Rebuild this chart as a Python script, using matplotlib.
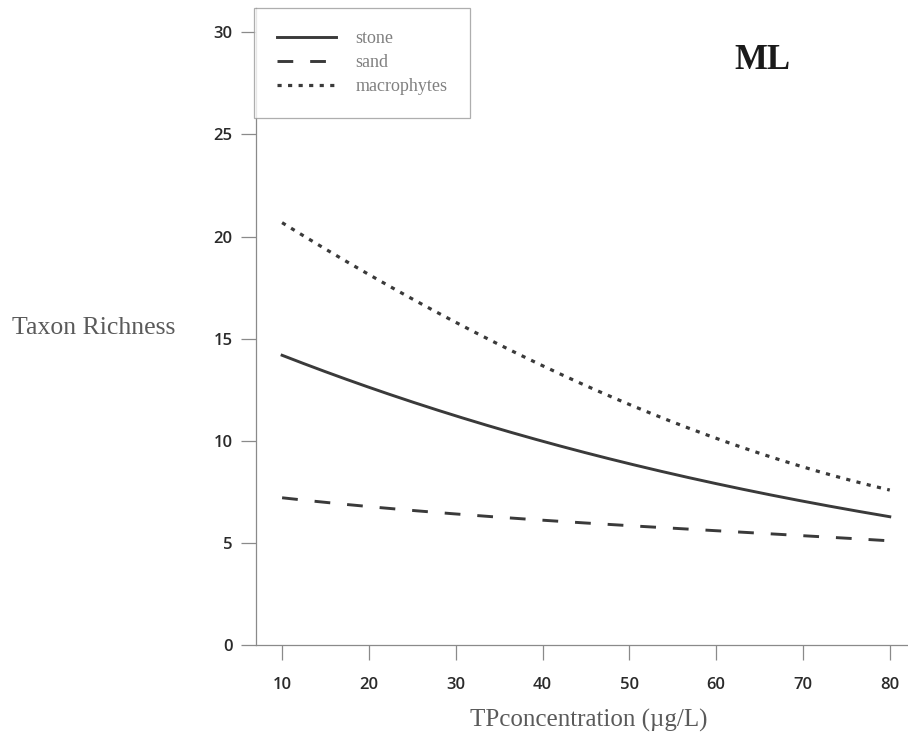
import numpy as np
import matplotlib
matplotlib.use("Agg")
import matplotlib.pyplot as plt

# TP concentration (ug/L) and fitted taxon richness per substrate
tp = [10, 20, 30, 40, 50, 60, 70, 80]
stone = [14.2, 12.6, 11.2, 10.0, 8.9, 7.9, 7.0, 6.3]
sand = [7.2, 6.8, 6.4, 6.1, 5.85, 5.6, 5.35, 5.1]
macrophytes = [20.7, 18.1, 15.8, 13.7, 11.8, 10.1, 8.7, 7.6]

xticks = [10, 20, 30, 40, 50, 60, 70, 80]
yticks = [0, 5, 10, 15, 20, 25, 30]

fig = plt.figure(figsize=(9.08, 7.54), dpi=100)
ax = fig.add_axes([0.282, 0.1446, 0.718, 0.845])

# smooth the curves a little (cubic fit through read points)
xs = np.linspace(10, 80, 200)
def smooth(y):
    c = np.polyfit(tp, y, 3)
    return np.polyval(c, xs)

lc = "#3a3a3a"
ax.plot(xs, smooth(stone), color=lc, lw=2.1, label="stone")
ax.plot(xs, smooth(sand), color=lc, lw=2.1, ls=(0, (5.4, 5.8)), label="sand")
ax.plot(xs, smooth(macrophytes), color=lc, lw=2.3, ls=(0, (1.3, 2.0)), label="macrophytes")

ax.set_xlim(7.0, 82.1)
ax.set_ylim(0, 31.2)
ax.set_xticks(xticks)
ax.set_yticks(yticks)

for s in ["top", "right"]:
    ax.spines[s].set_visible(False)
for s in ["left", "bottom"]:
    ax.spines[s].set_color("#8a8a8a")
    ax.spines[s].set_linewidth(0.9)

ax.tick_params(axis="y", length=11, width=0.9, color="#8a8a8a", pad=6)
ax.tick_params(axis="x", length=11, width=0.9, color="#8a8a8a", pad=12)
for lab in ax.get_xticklabels() + ax.get_yticklabels():
    lab.set_fontfamily("Open Sans")
    lab.set_fontweight("semibold")
    lab.set_fontsize(12)
    lab.set_color("#2a2a2a")

ax.set_ylabel("Taxon Richness", family="Liberation Serif", fontsize=18.5,
              color="#5a5a5a", rotation=0, ha="left", va="center")
ax.yaxis.set_label_coords(-0.374, 0.498)
ax.set_xlabel("TPconcentration (\u00b5g/L)", family="Liberation Serif",
              fontsize=18, color="#5a5a5a", va="center")
ax.xaxis.set_label_coords(0.51, -0.118)

ax.text(0.776, 0.918, "ML", transform=ax.transAxes, family="Liberation Serif",
        fontweight="bold", fontsize=25, color="#1a1a1a", ha="center", va="center")

leg = ax.legend(loc="upper left", bbox_to_anchor=(-0.003, 1.0), frameon=True,
                fancybox=False, borderaxespad=0, handlelength=3.3,
                handletextpad=1.05, borderpad=1.25, labelspacing=0.38,
                prop={"family": "Liberation Serif", "size": 13})
leg.get_frame().set_edgecolor("#9a9a9a")
leg.get_frame().set_linewidth(0.9)
for t in leg.get_texts():
    t.set_color("#808080")

fig.savefig("out.png", dpi=100)
